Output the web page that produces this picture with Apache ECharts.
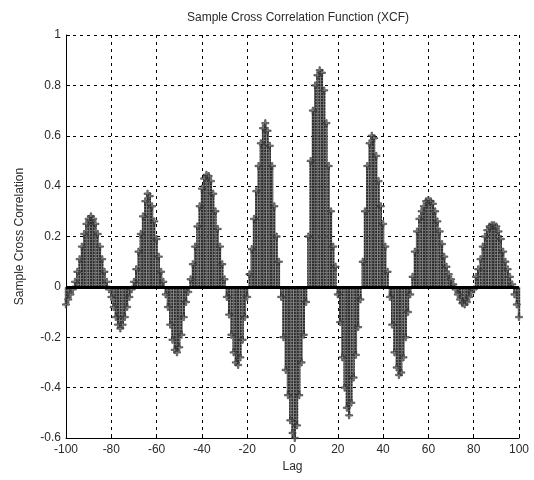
<!DOCTYPE html>
<html>
<head>
<meta charset="utf-8">
<script src="https://cdn.jsdelivr.net/npm/echarts@6/dist/echarts.min.js"></script>
<style>
  html, body { margin: 0; padding: 0; background: #fff; }
  #chart { width: 534px; height: 480px; }
</style>
</head>
<body>
<div id="chart"></div>
<script>
// Lags of the cross correlation, -100 .. 100
const lags = [];
for (let k = -100; k <= 100; k++) lags.push(k);

// Sample cross correlation at each lag
const xcf = [
  -0.07, -0.05, -0.03, -0.01,                                              // -100 .. -97
  0.02, 0.06, 0.11, 0.16, 0.21, 0.25, 0.27, 0.28, 0.27, 0.25, 0.21, 0.16, 0.11, 0.06, 0.02, // -96 .. -82
  -0.01, -0.04, -0.08, -0.12, -0.15, -0.165, -0.15, -0.12, -0.08, -0.04, -0.01,             // -81 .. -71
  0.02, 0.07, 0.14, 0.21, 0.28, 0.34, 0.37, 0.36, 0.32, 0.26, 0.19, 0.12, 0.06, 0.02,       // -70 .. -57
  -0.03, -0.08, -0.15, -0.21, -0.25, -0.26, -0.24, -0.19, -0.12, -0.06, -0.02,              // -56 .. -46
  0.03, 0.09, 0.16, 0.24, 0.32, 0.39, 0.43, 0.445, 0.44, 0.42, 0.37, 0.30, 0.23, 0.16, 0.09, 0.03, // -45 .. -30
  -0.04, -0.11, -0.19, -0.26, -0.30, -0.31, -0.28, -0.21, -0.12, -0.04,                     // -29 .. -20
  0.05, 0.15, 0.27, 0.38, 0.48, 0.57, 0.63, 0.65, 0.62, 0.56, 0.48, 0.32, 0.20, 0.10,       // -19 .. -6
  -0.04, -0.20, -0.33, -0.43, -0.53, -0.58, -0.60, -0.55, -0.43, -0.30, -0.19, -0.06,       // -5 .. 6
  0.20, 0.50, 0.70, 0.80, 0.84, 0.86, 0.85, 0.78, 0.65, 0.48, 0.30, 0.16, 0.08,             // 7 .. 19
  -0.03, -0.14, -0.28, -0.40, -0.48, -0.51, -0.46, -0.36, -0.27, -0.16, -0.05,              // 20 .. 30
  0.10, 0.30, 0.48, 0.57, 0.60, 0.59, 0.52, 0.42, 0.32, 0.25, 0.16, 0.06,                   // 31 .. 42
  -0.04, -0.15, -0.26, -0.32, -0.35, -0.34, -0.28, -0.20, -0.10, -0.03,                     // 43 .. 52
  0.04, 0.14, 0.22, 0.27, 0.30, 0.32, 0.34, 0.345, 0.34, 0.33, 0.30, 0.26, 0.22, 0.17, 0.12, 0.08, 0.05, 0.03, 0.01, // 53 .. 71
  -0.01, -0.03, -0.05, -0.065, -0.07, -0.06, -0.04, -0.02, -0.01,                           // 72 .. 80
  0.04, 0.07, 0.11, 0.16, 0.20, 0.225, 0.24, 0.245, 0.245, 0.24, 0.22, 0.19, 0.14, 0.10, 0.07, 0.04, 0.01, // 81 .. 97
  -0.03, -0.07, -0.12                                                      // 98 .. 100
];

const xTicks = [-100, -80, -60, -40, -20, 0, 20, 40, 60, 80, 100];
const yTicks = [-0.6, -0.4, -0.2, 0, 0.2, 0.4, 0.6, 0.8, 1];

const pts = lags.map((l, i) => [l, xcf[i]]);

const FONT = '"Liberation Sans", Arial, sans-serif';
const TXT = '#2a2a2a';

// asterisk-like stem marker
const starPath = 'path://M4,0H6V4H10V6H6V10H4V6H0V4H4Z';

const chart = echarts.init(document.getElementById('chart'), null, { renderer: 'canvas' });
chart.setOption({
  animation: false,
  backgroundColor: '#fff',
  title: {
    text: 'Sample Cross Correlation Function (XCF)',
    left: 293, top: 7, textAlign: 'center',
    textStyle: { fontFamily: FONT, fontSize: 12, fontWeight: 'normal', color: TXT }
  },
  grid: { left: 66, right: 15, top: 35, bottom: 42, containLabel: false },
  xAxis: {
    type: 'value', min: -100, max: 100, interval: 20,
    name: 'Lag', nameLocation: 'middle', nameGap: 22,
    nameTextStyle: { fontFamily: FONT, fontSize: 12, color: TXT },
    axisLine: { onZero: false, lineStyle: { color: '#000', width: 1 } },
    axisTick: { inside: true, length: 4, lineStyle: { color: '#000' } },
    axisLabel: {
      fontFamily: FONT, fontSize: 12, color: TXT, margin: 6,
      customValues: xTicks
    },
    splitLine: { show: true, lineStyle: { color: '#000', type: [3, 4], width: 1 } }
  },
  yAxis: {
    type: 'value', min: -0.6, max: 1, interval: 0.2,
    name: 'Sample Cross Correlation', nameLocation: 'middle', nameGap: 40,
    nameTextStyle: { fontFamily: FONT, fontSize: 12, color: TXT },
    axisLine: { onZero: false, lineStyle: { color: '#000', width: 1 } },
    axisTick: { inside: true, length: 4, lineStyle: { color: '#000' } },
    axisLabel: {
      fontFamily: FONT, fontSize: 12, color: TXT, margin: 5,
      formatter: v => String(Math.round(v * 10) / 10)
    },
    splitLine: { show: true, lineStyle: { color: '#000', type: [3, 4], width: 1 } }
  },
  series: [
    {
      type: 'bar',
      data: pts,
      barWidth: 2.3,
      itemStyle: {
        color: '#666',
        decal: {
          symbol: 'rect', symbolSize: 1,
          dashArrayX: [[2, 1]], dashArrayY: [2, 1],
          color: 'rgba(10,10,10,0.6)'
        }
      },
      markLine: {
        silent: true, symbol: 'none', label: { show: false },
        lineStyle: { color: '#000', width: 3, type: 'solid' },
        data: [{ yAxis: 0 }]
      },
      z: 2
    },
    {
      type: 'scatter',
      data: pts,
      symbol: starPath,
      symbolSize: 7,
      itemStyle: { color: '#7a7a7a', borderColor: '#1a1a1a', borderWidth: 0.7 },
      z: 3
    }
  ]
});
</script>
</body>
</html>
